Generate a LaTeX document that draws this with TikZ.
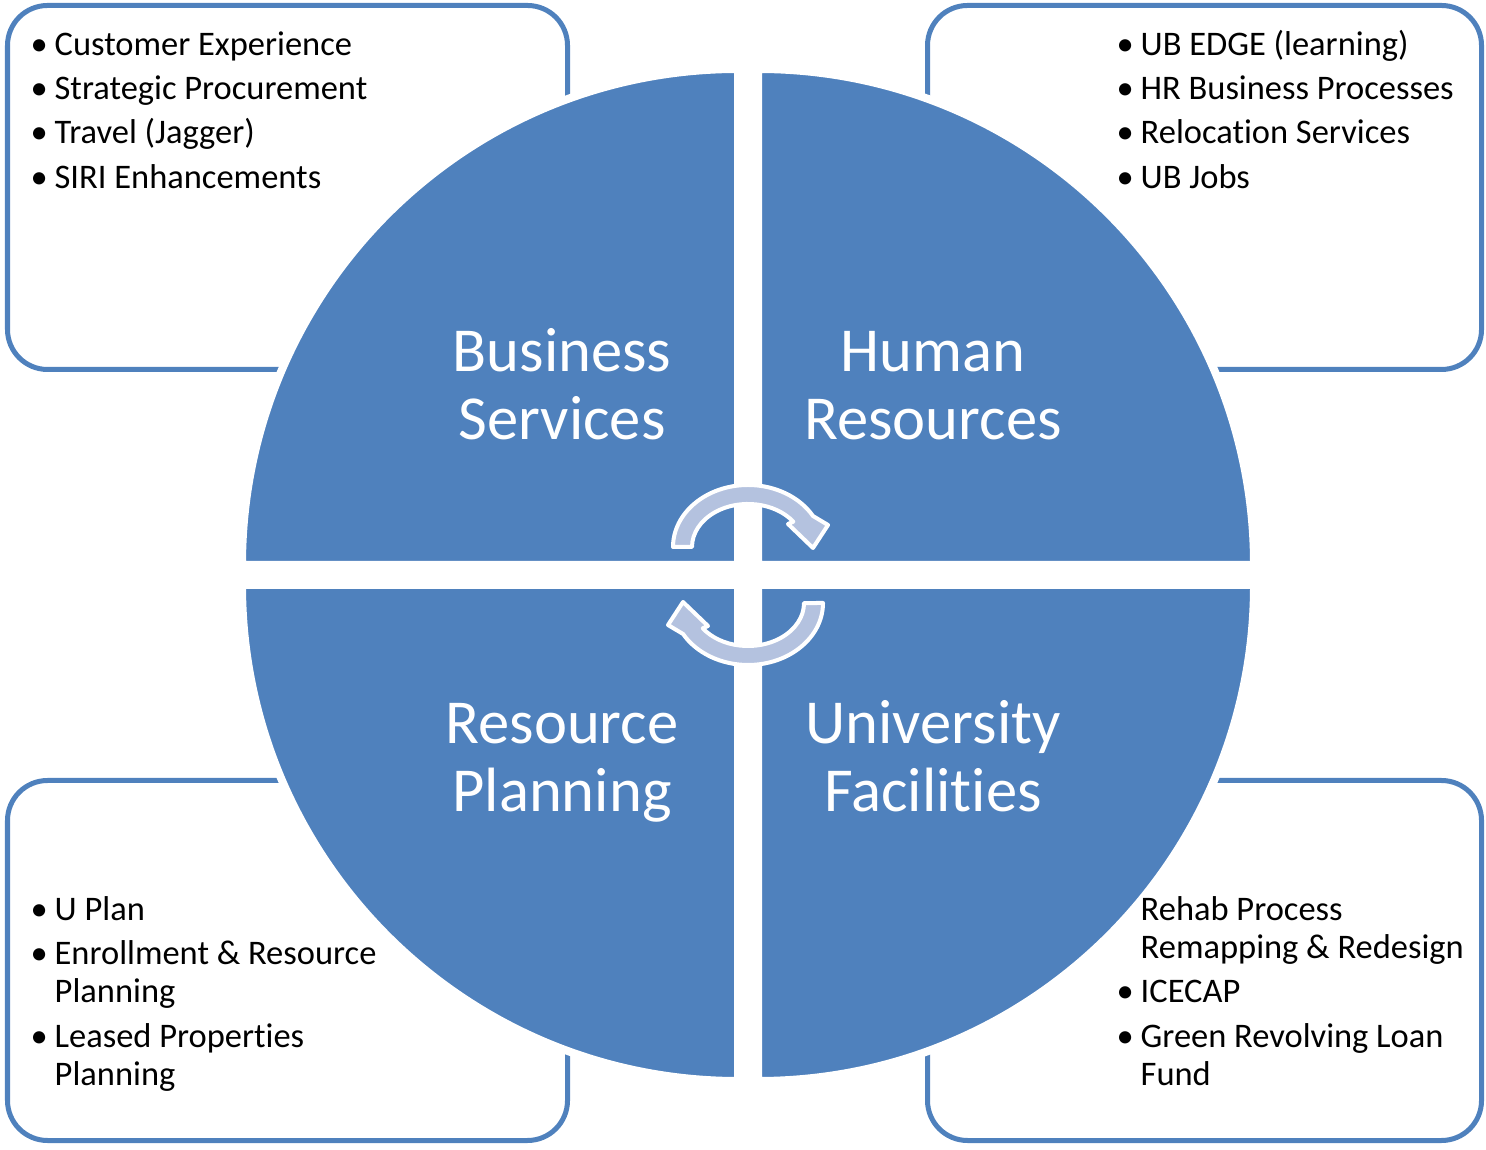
\documentclass[tikz,border=0pt]{standalone}
\usepackage{fontspec}
\setmainfont{Carlito}[RawFeature={-liga;-clig;-dlig;-calt}]
\usetikzlibrary{positioning}
\definecolor{qblue}{HTML}{4F81BD}
\definecolor{alight}{HTML}{B4C2DF}
\tikzset{bx/.append style={draw=qblue,line width=0.05cm,rounded corners=0.4cm}}
\tikzset{qd/.append style={fill=qblue,draw=white,line width=0.08cm}}
\tikzset{lb/.append style={text=white,align=center,anchor=base,inner sep=0pt,font=\fontsize{17.8}{19.35}\selectfont}}
\tikzset{ls/.append style={align=left,anchor=base west,inner sep=0pt,font=\fontsize{9.8}{10.8}\selectfont}}
\tikzset{ar/.append style={fill=alight,draw=white,line width=0.04cm,line join=round}}
\newcommand{\bt}{\llap{\makebox[0.24cm][l]{\textbullet}}}
\newcommand{\ps}{\\[1.85pt]}

\begin{document}
\begin{tikzpicture}[x=0.01cm,y=0.01cm]
                \useasboundingbox (0,0) rectangle (1486,1149);
                % boxes
                \draw[bx] (7.5,779.5) rectangle (567.5,1143.5);
                \draw[bx] (927.5,779.5) rectangle (1481.5,1143.5);
                \draw[bx] (7.5,8.5) rectangle (567.5,368.5);
                \draw[bx] (927.5,8.5) rectangle (1481.5,368.5);
                % quadrants
                \draw[qd] (738,584) -- (242,584) arc[start angle=180,end angle=90,radius=496] -- cycle;
                \draw[qd] (758,584) -- (758,1080) arc[start angle=90,end angle=0,radius=496] -- cycle;
                \draw[qd] (738,564) -- (242,564) arc[start angle=180,end angle=270,radius=496] -- cycle;
                \draw[qd] (758,564) -- (1254,564) arc[start angle=0,end angle=-90,radius=496] -- cycle;
                \node[lb] (bs) at (562,709) {Business\\Services};
                \node[lb] (hr) at (933,709) {Human\\Resources};
                \node[lb] (rp) at (562,337) {Resource\\Planning};
                \node[lb] (uf) at (933,337) {University\\Facilit\kern0pt ies};
                % cycle arrows
                \draw[ar] (673,602) arc[start angle=180,end angle=30,x radius=75,y radius=62] -- (828,624) -- (813,601) -- (788,625) -- (793.3,627.3) arc[start angle=36,end angle=180,x radius=56,y radius=43] -- cycle;
                \draw[ar,rotate around={180:(748,574)}] (673,602) arc[start angle=180,end angle=30,x radius=75,y radius=62] -- (828,624) -- (813,601) -- (788,625) -- (793.3,627.3) arc[start angle=36,end angle=180,x radius=56,y radius=43] -- cycle;
                % lists
                \node[ls] (bsl) at (54,960.5) {\bt Customer Experience\ps\bt Strategic Procurement\ps\bt Travel (Jagger)\ps\bt SIRI Enhancements};
                \node[ls] (hrl) at (1140,960.5) {\bt UB EDGE (learning)\ps\bt HR Business Processes\ps\bt Relocation Services\ps\bt UB Jobs};
                \node[ls] (rpl) at (54,64) {\bt U Plan\ps\bt Enrollment \& Resource\\Planning\ps\bt Leased Propert\kern0pt ies\\Planning};
                \node[ls] (ufl) at (1140,64) {Rehab Process\\Remapping \& Redesign\ps\bt ICECAP\ps\bt Green Revolving Loan\\Fund};
            \end{tikzpicture}
\end{document}
